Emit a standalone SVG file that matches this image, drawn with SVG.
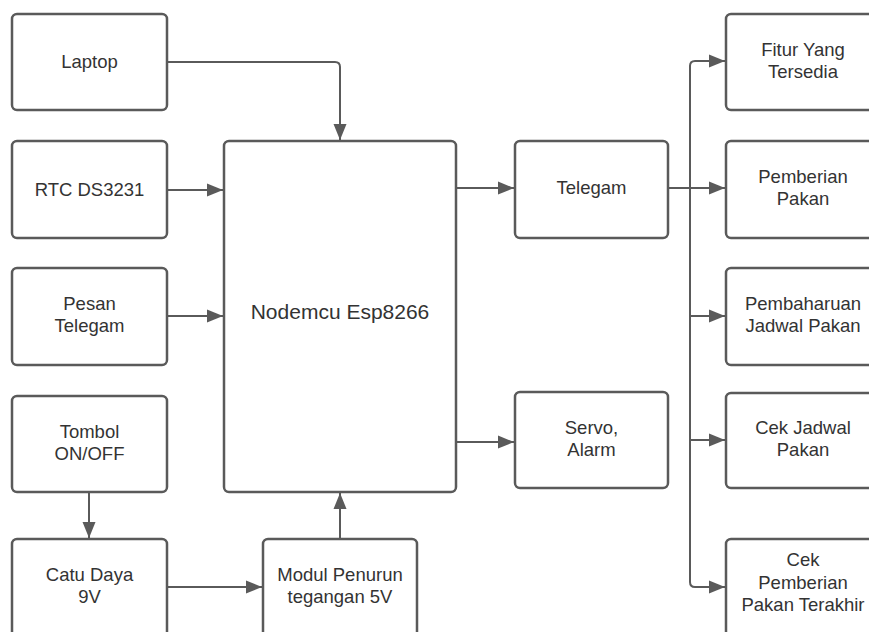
<svg xmlns="http://www.w3.org/2000/svg" width="869" height="632" viewBox="0 0 869 632">
<defs>
<style>
.box{fill:#fff;stroke:#5a5a5a;stroke-width:2.5}
.t{font-family:"Liberation Sans",Arial,sans-serif;font-size:18.5px;fill:#333;text-anchor:middle}
.big{font-size:21px}
.c{fill:none;stroke:#5a5a5a;stroke-width:2}
</style>
<marker id="a" markerUnits="userSpaceOnUse" markerWidth="17" markerHeight="13" refX="16" refY="6.5" orient="auto" overflow="visible">
<path d="M0,0 L16,6.5 L0,13 z" fill="#5a5a5a"/>
</marker>
</defs>
<rect width="869" height="632" fill="#fff"/>
<g id="connectors">
<path class="c" d="M167,62 H335 Q340,62 340,67 V140" marker-end="url(#a)"/>
<path class="c" d="M167,190 H223" marker-end="url(#a)"/>
<path class="c" d="M167,316 H223" marker-end="url(#a)"/>
<path class="c" d="M89,492 V538" marker-end="url(#a)"/>
<path class="c" d="M167,587 H262" marker-end="url(#a)"/>
<path class="c" d="M340,539 V493" marker-end="url(#a)"/>
<path class="c" d="M456,188 H514" marker-end="url(#a)"/>
<path class="c" d="M456,442 H514" marker-end="url(#a)"/>
<path class="c" d="M668,188 H725" marker-end="url(#a)"/>
<path class="c" d="M690,188 V66 Q690,61 695,61 H725" marker-end="url(#a)"/>
<path class="c" d="M690,188 V582 Q690,587 695,587 H725" marker-end="url(#a)"/>
<path class="c" d="M690,316 H725" marker-end="url(#a)"/>
<path class="c" d="M690,440 H725" marker-end="url(#a)"/>
</g>
<g id="laptop"><rect class="box" x="12" y="14" width="155" height="96" rx="5"/><text class="t" x="89.5" y="68">Laptop</text></g>
<g id="rtc"><rect class="box" x="12" y="141" width="155" height="97" rx="5"/><text class="t" x="89.5" y="196">RTC DS3231</text></g>
<g id="pesan"><rect class="box" x="12" y="268" width="155" height="97" rx="5"/><text class="t" x="89.5" y="310">Pesan</text><text class="t" x="89.5" y="332">Telegam</text></g>
<g id="tombol"><rect class="box" x="12" y="396" width="155" height="96" rx="5"/><text class="t" x="89.5" y="438">Tombol</text><text class="t" x="89.5" y="460">ON/OFF</text></g>
<g id="catu"><rect class="box" x="12" y="539" width="155" height="98" rx="5"/><text class="t" x="89.5" y="581">Catu Daya</text><text class="t" x="89.5" y="603">9V</text></g>
<g id="modul"><rect class="box" x="263" y="539" width="154" height="98" rx="5"/><text class="t" x="340" y="581">Modul Penurun</text><text class="t" x="340" y="603">tegangan 5V</text></g>
<g id="nodemcu"><rect class="box" x="224" y="141" width="232" height="351" rx="5"/><text class="t big" x="340" y="319">Nodemcu Esp8266</text></g>
<g id="telegam"><rect class="box" x="515" y="141" width="153" height="97" rx="5"/><text class="t" x="591.5" y="194">Telegam</text></g>
<g id="servo"><rect class="box" x="515" y="392" width="153" height="96" rx="5"/><text class="t" x="591.5" y="434">Servo,</text><text class="t" x="591.5" y="456">Alarm</text></g>
<g id="fitur"><rect class="box" x="726" y="14" width="160" height="96" rx="5"/><text class="t" x="803" y="56">Fitur Yang</text><text class="t" x="803" y="78">Tersedia</text></g>
<g id="pemberian"><rect class="box" x="726" y="141" width="160" height="97" rx="5"/><text class="t" x="803" y="183">Pemberian</text><text class="t" x="803" y="205">Pakan</text></g>
<g id="pembaharuan"><rect class="box" x="726" y="268" width="160" height="97" rx="5"/><text class="t" x="803" y="310">Pembaharuan</text><text class="t" x="803" y="332">Jadwal Pakan</text></g>
<g id="cekjadwal"><rect class="box" x="726" y="393" width="160" height="95" rx="5"/><text class="t" x="803" y="434">Cek Jadwal</text><text class="t" x="803" y="456">Pakan</text></g>
<g id="cekpemberian"><rect class="box" x="726" y="539" width="160" height="98" rx="5"/><text class="t" x="803" y="566">Cek</text><text class="t" x="803" y="589">Pemberian</text><text class="t" x="803" y="611">Pakan Terakhir</text></g>
</svg>
